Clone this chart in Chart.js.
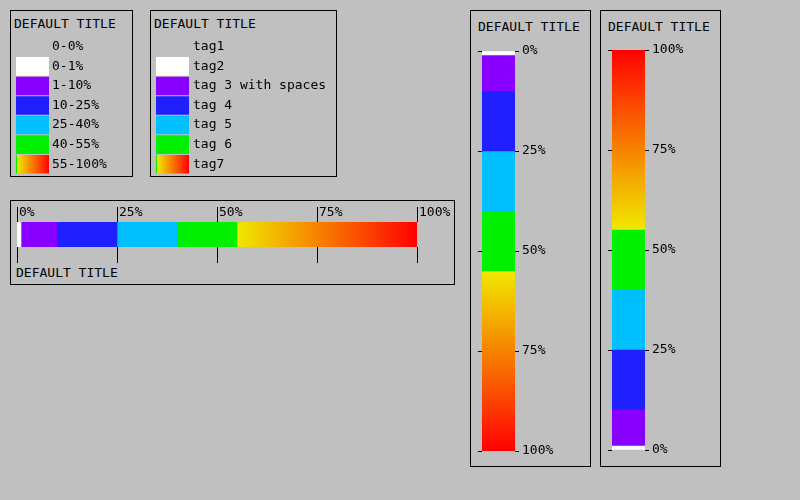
<!DOCTYPE html>
<html><head><meta charset="utf-8">
<script src="https://cdn.jsdelivr.net/npm/chart.js@4/dist/chart.umd.min.js"></script>
<style>
html,body{margin:0;padding:0;background:#c0c0c0;width:800px;height:500px;overflow:hidden;font-family:'DejaVu Sans Mono',monospace;font-size:13px;}
.box{position:absolute;border:1px solid #000;box-sizing:border-box;}
.t{position:absolute;line-height:15px;white-space:pre;color:#000;}
canvas{position:absolute;}
</style></head><body>
<div class="box" style="left:10px;top:10px;width:123px;height:167px"></div>
<div class="box" style="left:150px;top:10px;width:187px;height:167px"></div>
<div class="box" style="left:10px;top:200px;width:445px;height:85px"></div>
<div class="box" style="left:470px;top:10px;width:121px;height:457px"></div>
<div class="box" style="left:600px;top:10px;width:121px;height:457px"></div>
<div class="t" style="left:14px;top:16px">DEFAULT TITLE</div>
<div class="t" style="left:154px;top:16px">DEFAULT TITLE</div>
<div class="t" style="left:16px;top:265px">DEFAULT TITLE</div>
<div class="t" style="left:478px;top:19px">DEFAULT TITLE</div>
<div class="t" style="left:608px;top:19px">DEFAULT TITLE</div>
<canvas id="legA" width="120" height="175" style="left:11px;top:11px"></canvas>
<canvas id="legB" width="185" height="175" style="left:151px;top:11px"></canvas>
<canvas id="hbar" width="443" height="83" style="left:11px;top:201px"></canvas>
<canvas id="vbar1" width="119" height="454" style="left:471px;top:11px"></canvas>
<canvas id="vbar2" width="119" height="454" style="left:601px;top:11px"></canvas>
<script>
const legendLabelsA = ['0-0%','0-1%','1-10%','10-25%','25-40%','40-55%','55-100%'];
const legendLabelsB = ['tag1','tag2','tag 3 with spaces','tag 4','tag 5','tag 6','tag7'];
const legendSwatch = [0,1,1,1,1,1,1];
const legendColors = ['rgba(0,0,0,0)','#ffffff','#8800ff','#2020ff','#00c0ff','#00f000','GRADIENT'];
const segStart = [0,1,10,25,40,55];
const segEnd = [1,10,25,40,55,100];
const segColors = ['#ffffff','#8800ff','#2020ff','#00c0ff','#00f000','GRADIENT'];
const tickValues = [0,25,50,75,100];
const tickLabels = ['0%','25%','50%','75%','100%'];
const gradStops = [[0,'rgb(240,232,0)'],[0.25,'rgb(243,176,0)'],[0.5,'rgb(248,118,0)'],[0.75,'rgb(252,60,0)'],[1,'rgb(255,0,0)']];

Chart.defaults.font.family = "'DejaVu Sans Mono', monospace";
Chart.defaults.font.size = 13;
Chart.defaults.font.lineHeight = 1.2;
Chart.defaults.color = '#000';

function grad(ctx, x0, y0, x1, y1, greenEdge) {
  if (![x0, y0, x1, y1].every(Number.isFinite)) return 'rgb(248,118,0)';
  const g = ctx.createLinearGradient(x0, y0, x1, y1);
  if (greenEdge) {
    g.addColorStop(0, '#00f000');
    g.addColorStop(0.03, '#00f000');
    gradStops.forEach(([o, c]) => g.addColorStop(0.031 + o * 0.969, c));
  } else {
    gradStops.forEach(([o, c]) => g.addColorStop(o, c));
  }
  return g;
}
const setTicks = s => { s.ticks = tickValues.map(v => ({value: v})); };
const tickCb = v => { const i = tickValues.indexOf(v); return i >= 0 ? tickLabels[i] : ''; };
const baseOpts = {
  responsive: false, animation: false, events: [],
  plugins: {legend: {display: false}, tooltip: {enabled: false}, title: {display: false}}
};

function legendChart(id, labels, labelPad, axisWidth) {
  new Chart(document.getElementById(id), {
    type: 'bar',
    data: {labels: labels, datasets: [{
      data: legendSwatch,
      backgroundColor: c => {
        const col = legendColors[c.dataIndex];
        if (col !== 'GRADIENT') return col;
        const a = c.chart.chartArea;
        if (!a) return 'rgb(240,232,0)';
        return grad(c.chart.ctx, a.left, 0, a.right, 0, true);
      },
      borderWidth: 0, barPercentage: 1, categoryPercentage: 0.95
    }]},
    options: Object.assign({}, baseOpts, {
      indexAxis: 'y',
      layout: {padding: {left: 5, top: 26, right: 0, bottom: 12}},
      scales: {
        x: {display: false, min: 0, max: 1},
        y: {type: 'category', position: 'right', offset: true,
            grid: {display: false, drawTicks: false}, border: {display: false},
            ticks: {padding: labelPad, autoSkip: false},
            afterFit: s => { s.width = axisWidth; }}
      }
    })
  });
}
legendChart('legA', legendLabelsA, 3, 82);
legendChart('legB', legendLabelsB, 4, 147);

function segDatasets(axisKey, horizontal) {
  return segStart.map((s, i) => ({
    data: [[s, segEnd[i]]],
    backgroundColor: segColors[i] !== 'GRADIENT' ? segColors[i] : c => {
      const sc = c.chart.scales[axisKey];
      if (!sc) return 'rgb(248,118,0)';
      const p0 = sc.getPixelForValue(segStart[i]), p1 = sc.getPixelForValue(segEnd[i]);
      return horizontal ? grad(c.chart.ctx, p0, 0, p1, 0, false) : grad(c.chart.ctx, 0, p0, 0, p1, false);
    },
    borderWidth: 0, barPercentage: 1, categoryPercentage: 1, grouped: false
  }));
}

new Chart(document.getElementById('hbar'), {
  type: 'bar',
  data: {labels: [''], datasets: segDatasets('x', true)},
  options: Object.assign({}, baseOpts, {
    indexAxis: 'y',
    layout: {padding: {left: 6, right: 37, top: 6, bottom: 21}},
    scales: {
      x: {type: 'linear', position: 'top', min: 0, max: 100, afterBuildTicks: setTicks,
          grid: {drawOnChartArea: false, tickLength: 15, color: '#000'}, border: {display: false},
          ticks: {align: 'start', padding: -13, labelOffset: 2, callback: tickCb, autoSkip: false, maxRotation: 0},
          afterFit: s => { s.height = 15; }},
      x2: {type: 'linear', axis: 'x', position: 'bottom', min: 0, max: 100, afterBuildTicks: setTicks,
          grid: {drawOnChartArea: false, tickLength: 16, color: '#000'}, border: {display: false},
          ticks: {display: false}, afterFit: s => { s.height = 16; }},
      y: {display: false}
    }
  })
});

function vbar(id, reverse, padTop, padBottom) {
  new Chart(document.getElementById(id), {
    type: 'bar',
    data: {labels: [''], datasets: segDatasets('y', false)},
    options: Object.assign({}, baseOpts, {
      layout: {padding: {left: 7, right: 0, top: padTop, bottom: padBottom}},
      scales: {
        x: {display: false},
        y: {type: 'linear', position: 'right', min: 0, max: 100, reverse: reverse, afterBuildTicks: setTicks,
            grid: {drawOnChartArea: false, tickLength: 4, color: '#000'}, border: {display: false},
            ticks: {padding: 3, callback: tickCb, autoSkip: false},
            afterFit: s => { s.width = 75; }},
        yl: {type: 'linear', axis: 'y', position: 'left', min: 0, max: 100, reverse: reverse, afterBuildTicks: setTicks,
            grid: {drawOnChartArea: false, tickLength: 4, color: '#000'}, border: {display: false},
            ticks: {display: false}, afterFit: s => { s.width = 4; }}
      }
    })
  });
}
vbar('vbar1', true, 40, 14);
vbar('vbar2', false, 39, 15);
</script>
</body></html>
